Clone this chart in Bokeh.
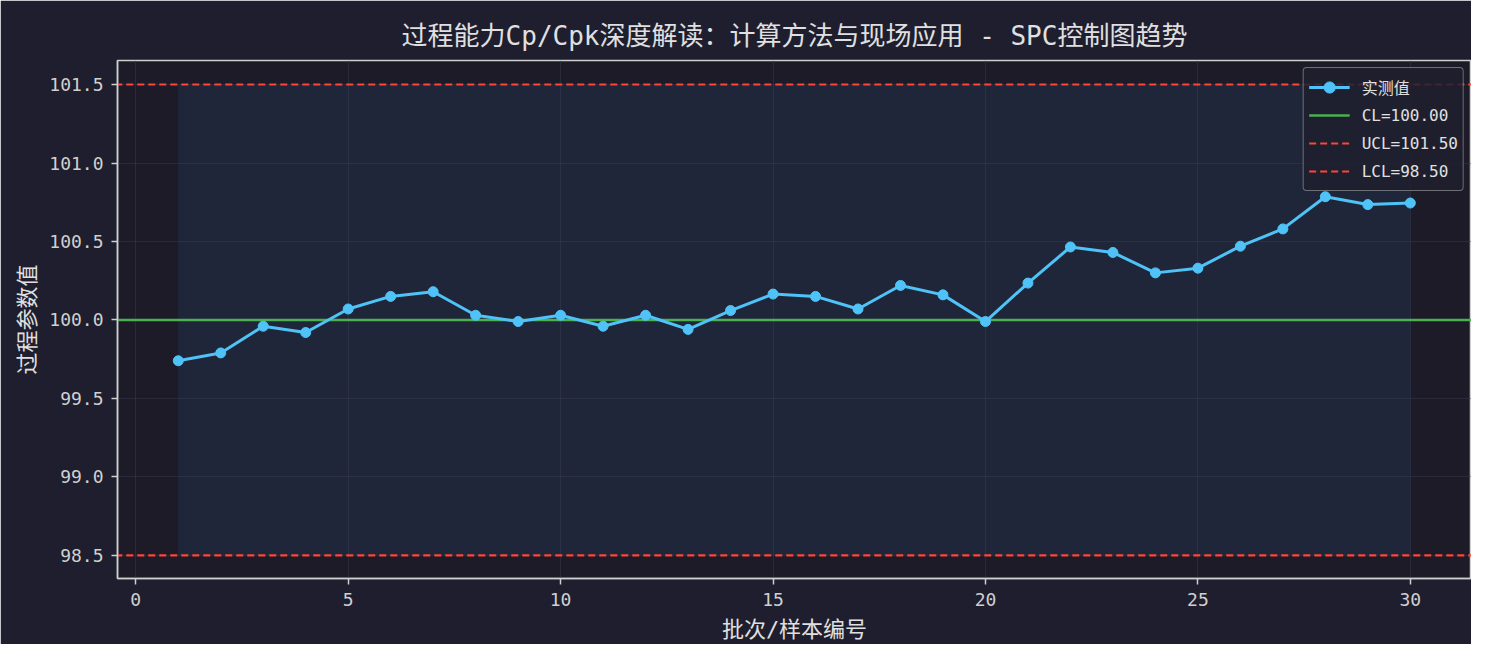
#SPC control chart for process capability walkthrough

from bokeh.plotting import figure
from bokeh.models import Range1d, ColumnDataSource, Legend, LegendItem, FixedTicker
from bokeh.embed import file_html
from bokeh.resources import INLINE

#### DATA ####
samples = list(range(1, 31))
measured = [99.74, 99.79, 99.96, 99.92, 100.07, 100.15, 100.18, 100.03, 99.99, 100.03,
            99.96, 100.03, 99.94, 100.06, 100.165, 100.15, 100.07, 100.22, 100.16, 99.99,
            100.235, 100.465, 100.43, 100.30, 100.33, 100.47, 100.58, 100.785, 100.735, 100.745]
cl = 100.00
ucl = 101.50
lcl = 98.50
x_ticks = [0, 5, 10, 15, 20, 25, 30]
y_ticks = [98.5, 99.0, 99.5, 100.0, 100.5, 101.0, 101.5]

title_text = "过程能力Cp/Cpk深度解读：计算方法与现场应用 - SPC控制图趋势"
font = "DejaVu Sans Mono, Noto Sans CJK SC"

#### FIGURE ####
p = figure(width=1471, height=644, output_backend="svg", toolbar_location=None,
           x_range=Range1d(-0.43, 31.44), y_range=Range1d(98.353, 101.653),
           min_border_left=117, min_border_right=0, min_border_top=60, min_border_bottom=66)

p.background_fill_color = "#1c1b27"
p.border_fill_color = "#1e1e2e"
p.outline_line_color = "#cfcfcf"
p.outline_line_width = 1.5

p.title.text = title_text
p.title.text_font = font
p.title.text_font_size = "26px"
p.title.text_font_style = "normal"
p.title.text_color = "#e0e0e0"
p.title.align = "center"
p.title.offset = 0
p.title.standoff = 20

#axes
p.xaxis.axis_label = "批次/样本编号"
p.yaxis.axis_label = "过程参数值"
p.xaxis.ticker = FixedTicker(ticks=x_ticks)
p.yaxis.ticker = FixedTicker(ticks=y_ticks)
for ax in [p.xaxis[0], p.yaxis[0]]:
    ax.axis_label_text_font = font
    ax.axis_label_text_font_size = "22px"
    ax.axis_label_text_font_style = "normal"
    ax.axis_label_text_color = "#e0e0e0"
    ax.major_label_text_font = font
    ax.major_label_text_font_size = "18px"
    ax.major_label_text_color = "#d0d0d0"
    ax.axis_line_color = "#cfcfcf"
    ax.axis_line_width = 1.5
    ax.major_tick_line_color = "#cfcfcf"
    ax.major_tick_line_width = 1.5
    ax.major_tick_out = 6
    ax.major_tick_in = 0
    ax.minor_tick_line_color = None
    ax.major_label_standoff = 8
p.yaxis.major_label_overrides = {t: "%.1f" % t for t in y_ticks}
p.yaxis.axis_label_standoff = 6
p.xaxis.axis_label_standoff = 8

p.grid.grid_line_color = "#3a3d52"
p.grid.grid_line_alpha = 0.45
p.grid.grid_line_width = 1

#in-control band
p.quad(left=[samples[0]], right=[samples[-1]], bottom=[lcl], top=[ucl],
       fill_color="#23304a", fill_alpha=0.55, line_color=None, level="underlay")

#limit lines
cl_r = p.line(x=[-1, 32], y=[cl, cl], line_color="#4caf50", line_width=2.5)
ucl_r = p.line(x=[-1, 32], y=[ucl, ucl], line_color="#ff4538", line_width=2.2, line_dash="7 4")
lcl_r = p.line(x=[-1, 32], y=[lcl, lcl], line_color="#ff4538", line_width=2.2, line_dash="7 4")

#measured values
src = ColumnDataSource(data=dict(x=samples, y=measured))
m_line = p.line("x", "y", source=src, line_color="#4fc3f7", line_width=3)
m_pts = p.scatter("x", "y", source=src, size=10, fill_color="#4fc3f7", line_color="#4fc3f7")

legend = Legend(items=[
    LegendItem(label="实测值", renderers=[m_line, m_pts]),
    LegendItem(label="CL=%.2f" % cl, renderers=[cl_r]),
    LegendItem(label="UCL=%.2f" % ucl, renderers=[ucl_r]),
    LegendItem(label="LCL=%.2f" % lcl, renderers=[lcl_r]),
], location="top_right")
legend.label_text_font = font
legend.label_text_font_size = "16px"
legend.label_text_color = "#e0e0e0"
legend.background_fill_color = "#1e1e2e"
legend.background_fill_alpha = 0.85
legend.border_line_color = "#bdbdbd"
legend.border_line_width = 1.5
legend.border_radius = 4
legend.margin = 7
legend.padding = 5
legend.spacing = 0
legend.glyph_width = 41
legend.glyph_height = 28
legend.label_height = 28
legend.label_standoff = 12
p.add_layout(legend)

open("out.html", "w").write(file_html(p, INLINE))
